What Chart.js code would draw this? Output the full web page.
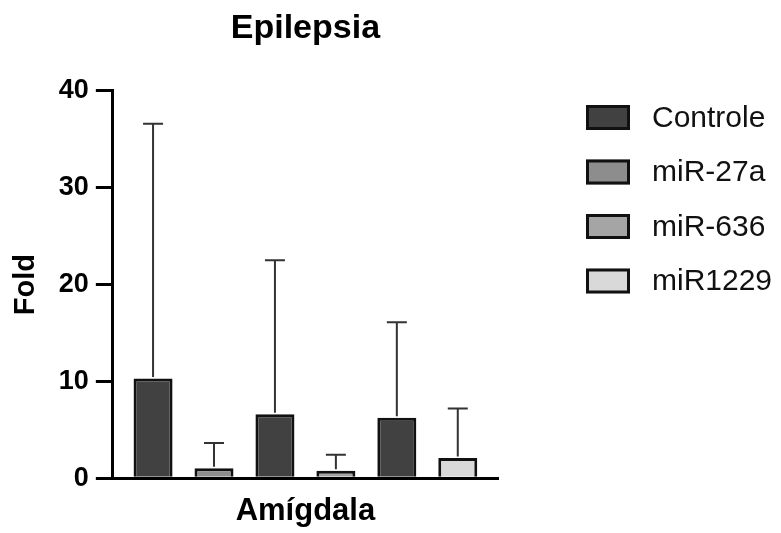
<!DOCTYPE html>
<html>
<head>
<meta charset="utf-8">
<script src="https://cdn.jsdelivr.net/npm/chart.js@4/dist/chart.umd.min.js"></script>
<style>
    html, body { margin: 0; padding: 0; background: #fff; }
    #wrap { width: 781px; height: 533px; }
</style>
</head>
<body>
<div id="wrap"><canvas id="chart" width="781" height="533"></canvas></div>
<script>
// ─── Data ─────────────────────────────────────────────────
// six bar slots along the x axis (Controle / miR pairs)
const positions  = [1, 2, 3, 4, 5, 6];
const groupNames = ['Controle', 'miR-27a', 'miR-636', 'miR1229'];

const controle    = [10.3, null, 6.6, null, 6.25, null];
const controleSD  = [26.3, null, 15.9, null, 9.85, null];
const mir27a      = [null, 1.05, null, null, null, null];
const mir27aSD    = [null, 2.6,  null, null, null, null];
const mir636      = [null, null, null, 0.78, null, null];
const mir636SD    = [null, null, null, 1.65, null, null];
const mir1229     = [null, null, null, null, null, 2.1];
const mir1229SD   = [null, null, null, null, null, 5.1];

const yTicks = [0, 10, 20, 30, 40];

// ─── Style ────────────────────────────────────────────────
const FONT   = "'Liberation Sans', Arial, Helvetica, sans-serif";
const COLORS = ['#414141', '#8d8d8d', '#a5a5a5', '#d9d9d9'];
const EDGE   = '#111111';

const seriesValues = [controle, mir27a, mir636, mir1229];
const seriesSD     = [controleSD, mir27aSD, mir636SD, mir1229SD];

// ─── Plugins ──────────────────────────────────────────────
// upward-only SD whiskers, like GraphPad
const errorBars = {
    id: 'errorBars',
    afterDatasetsDraw(chart) {
        const { ctx, scales: { y } } = chart;
        ctx.save();
        ctx.strokeStyle = '#333';
        ctx.lineWidth = 2;
        chart.data.datasets.forEach((ds, i) => {
            const meta = chart.getDatasetMeta(i);
            meta.data.forEach((bar, j) => {
                const v = ds.data[j], sd = seriesSD[i][j];
                if (v == null || sd == null) return;
                const top = y.getPixelForValue(v + sd);
                ctx.beginPath();
                ctx.moveTo(bar.x, bar.y - 1.5);
                ctx.lineTo(bar.x, top);
                ctx.moveTo(bar.x - 10, top);
                ctx.lineTo(bar.x + 10, top);
                ctx.stroke();
            });
        });
        ctx.restore();
    }
};

// legend on the right, away from the plot
const sideLegend = {
    id: 'sideLegend',
    afterDraw(chart) {
        const { ctx } = chart;
        const x0 = 586, y0 = 105, gap = 54.5, bw = 44, bh = 25;
        ctx.save();
        chart.data.datasets.forEach((ds, i) => {
            const top = y0 + i * gap;
            ctx.fillStyle = ds.backgroundColor;
            ctx.fillRect(x0, top, bw, bh);
            ctx.strokeStyle = EDGE;
            ctx.lineWidth = 3;
            ctx.strokeRect(x0 + 1.5, top + 1.5, bw - 3, bh - 3);
            ctx.fillStyle = '#111';
            ctx.font = `30px ${FONT}`;
            ctx.textBaseline = 'middle';
            ctx.textAlign = 'left';
            ctx.fillText(ds.label, x0 + 66, top + bh / 2 + 1);
        });
        ctx.restore();
    }
};

// ─── Chart ────────────────────────────────────────────────
new Chart(document.getElementById('chart'), {
    type: 'bar',
    data: {
        labels: positions,
        datasets: groupNames.map((name, i) => ({
            label: name,
            data: seriesValues[i],
            backgroundColor: COLORS[i],
            borderColor: EDGE,
            borderWidth: 3,
            grouped: false,
            barPercentage: 0.64,
            categoryPercentage: 1,
        }))
    },
    options: {
        responsive: false,
        animation: false,
        devicePixelRatio: 1,
        layout: { padding: { left: 0, right: 283, top: 0, bottom: 0 } },
        plugins: {
            legend: { display: false },
            tooltip: { enabled: false },
            title: {
                display: true,
                text: 'Epilepsia',
                fullSize: false,
                color: '#000',
                font: { family: FONT, size: 34, weight: 'bold' },
                padding: { top: 8, bottom: 42 },
            },
        },
        scales: {
            x: {
                type: 'linear',
                offset: false,
                min: 0.34,
                max: 6.66,
                ticks: { display: false },
                grid: { display: false, drawTicks: false },
                border: { display: true, width: 3, color: '#000' },
                title: {
                    display: true,
                    text: 'Amígdala',
                    color: '#000',
                    font: { family: FONT, size: 31, weight: 'bold' },
                    padding: { top: 14.5, bottom: 3 },
                },
            },
            y: {
                min: yTicks[0],
                max: yTicks[yTicks.length - 1],
                afterBuildTicks: s => { s.ticks = yTicks.map(v => ({ value: v })); },
                ticks: {
                    color: '#000',
                    padding: 7,
                    font: { family: FONT, size: 27, weight: 'bold' },
                },
                grid: {
                    display: true,
                    drawOnChartArea: false,
                    drawTicks: true,
                    tickLength: 17,
                    lineWidth: 3,
                    color: '#000',
                },
                border: { display: true, width: 3, color: '#000' },
                title: {
                    display: true,
                    text: 'Fold',
                    color: '#000',
                    font: { family: FONT, size: 29, weight: 'bold' },
                    padding: { top: 9, bottom: 8 },
                },
            },
        },
    },
    plugins: [errorBars, sideLegend],
});
</script>
</body>
</html>
